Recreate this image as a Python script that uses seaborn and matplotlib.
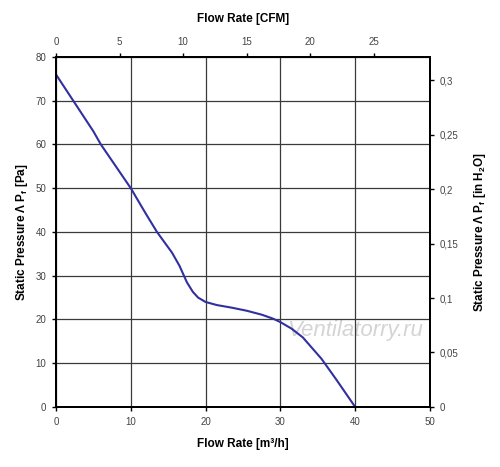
import matplotlib
matplotlib.use("Agg")
import matplotlib.pyplot as plt
import seaborn as sns
import pandas as pd

# fan curve
flow_m3h = [0, 2.5, 5, 6, 8, 10, 12, 13.5, 15.5, 16.5, 17.5, 18.3, 19, 20, 21.5, 23.5,
            25.5, 27.5, 29, 30, 31.5, 33, 35.5, 37.5, 40]
pressure_pa = [76, 69.5, 63, 60, 55, 50, 44.2, 40, 35.3, 32.3, 28.5, 26.3, 25, 24, 23.3, 22.7,
               22, 21.1, 20.2, 19.4, 17.9, 15.9, 11, 6.2, 0]

x_ticks = [0, 10, 20, 30, 40, 50]
y_ticks = [0, 10, 20, 30, 40, 50, 60, 70, 80]
cfm_ticks = [0, 5, 10, 15, 20, 25]
inh2o_ticks = [0, 0.05, 0.1, 0.15, 0.2, 0.25, 0.3]
inh2o_labels = ["0", "0,05", "0,1", "0,15", "0,2", "0,25", "0,3"]

M3H_PER_CFM = 1.699
PA_PER_INH2O = 249.09

sns.set_theme(style="white")
plt.rcParams['font.family'] = ['Liberation Sans', 'DejaVu Sans']

df = pd.DataFrame({'flow': flow_m3h, 'pressure': pressure_pa})

fig = plt.figure(figsize=(5, 4.67), dpi=100)
ax = fig.add_axes([0.112, 0.1285, 0.748, 0.7495])

sns.lineplot(data=df, x='flow', y='pressure', ax=ax, color='#3030a0', linewidth=1.5)

ax.set_xlim(0, 50)
ax.set_ylim(0, 80)
ax.set_xticks(x_ticks)
ax.set_yticks(y_ticks)
ax.grid(True, color='#3a3a3a', linewidth=0.9)
for s in ax.spines.values():
    s.set_color('black')
    s.set_linewidth(1.4)

tick_kw = dict(labelsize=7, labelcolor='#444444', direction='out', length=3, width=1, color='black', pad=4)
label_kw = dict(fontsize=8.5, fontweight='bold', color='black')
ax.tick_params(**tick_kw)
ax.set_xlabel('Flow Rate [m³/h]', labelpad=8, **label_kw)
ax.set_ylabel(r'Static Pressure Λ P$_\mathregular{f}$ [Pa]', labelpad=4, **label_kw)

# top axis in CFM
axt = ax.twiny()
axt.set_xlim(0, 50 / M3H_PER_CFM)
axt.set_xticks(cfm_ticks)
axt.tick_params(**tick_kw)
axt.set_xlabel('Flow Rate [CFM]', labelpad=11, **label_kw)

# right axis in inches of water
axr = ax.twinx()
axr.set_ylim(0, 80 / PA_PER_INH2O)
axr.set_yticks(inh2o_ticks)
axr.set_yticklabels(inh2o_labels)
axr.tick_params(**tick_kw)
axr.set_ylabel(r'Static Pressure Λ P$_\mathregular{f}$ [in H$_\mathregular{2}$O]', labelpad=10, **label_kw)
for a in (axt, axr):
    for s in a.spines.values():
        s.set_color('black')
        s.set_linewidth(1.4)

# faint watermark
ax.text(40, 17.5, 'Ventilatorry.ru', fontsize=16, style='italic', color='#d4d4d4',
        ha='center', va='center', zorder=0, clip_on=False)

fig.savefig('out.png', dpi=100, facecolor='white')
